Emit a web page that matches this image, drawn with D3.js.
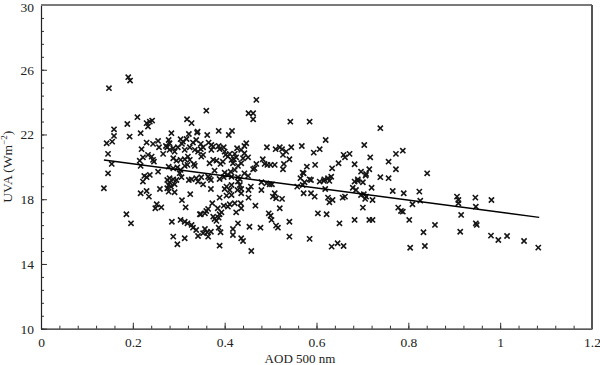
<!DOCTYPE html>
<html>
<head>
<meta charset="utf-8">
<script src="https://cdn.jsdelivr.net/npm/d3@7"></script>
<style>
  body { margin: 0; background: #fff; }
  svg text { font-family: "Liberation Serif", "Times New Roman", serif; fill: #222; }
</style>
</head>
<body>
<div id="chart"></div>
<script>
// AOD at 500 nm (x) and UVA irradiance in W/m2 (y)
var aod = [0.148,0.190,0.194,0.210,0.188,0.230,0.237,0.242,0.233,0.159,0.318,0.328,0.217,0.193,0.159,0.284,0.322,0.340,0.143,0.155,
  0.230,0.244,0.255,0.272,0.278,0.280,0.304,0.309,0.317,0.307,0.331,0.338,0.348,0.146,0.219,0.257,0.275,0.280,0.288,0.291,
  0.298,0.313,0.324,0.335,0.342,0.348,0.233,0.222,0.241,0.244,0.215,0.266,0.288,0.295,0.304,0.313,0.320,0.324,0.333,0.349,
  0.154,0.217,0.246,0.278,0.288,0.297,0.304,0.313,0.319,0.146,0.225,0.230,0.237,0.255,0.280,0.288,0.302,0.306,0.328,0.338,
  0.349,0.137,0.222,0.275,0.280,0.291,0.283,0.278,0.295,0.275,0.322,0.342,0.353,0.217,0.230,0.235,0.259,0.278,0.291,0.325,
  0.307,0.252,0.249,0.262,0.315,0.186,0.196,0.285,0.304,0.313,0.319,0.328,0.331,0.338,0.348,0.357,0.353,0.342,0.288,0.313,
  0.297,
  0.469,0.360,0.452,0.462,0.462,0.543,0.341,0.362,0.387,0.409,0.416,0.365,0.371,0.353,0.375,0.371,0.387,0.389,0.398,0.427,
  0.436,0.443,0.447,0.492,0.511,0.520,0.525,0.545,0.534,0.568,0.353,0.400,0.402,0.407,0.411,0.422,0.425,0.443,0.440,0.451,
  0.527,0.541,0.375,0.367,0.382,0.391,0.396,0.415,0.418,0.420,0.429,0.436,0.469,0.465,0.483,0.487,0.493,0.500,0.509,0.529,
  0.527,0.335,0.378,0.400,0.407,0.413,0.422,0.443,0.451,0.462,0.367,0.398,0.429,0.570,0.565,
  0.364,0.370,0.389,0.415,0.433,0.370,0.400,0.404,0.411,0.415,0.429,0.433,0.436,0.428,0.436,0.452,0.457,0.480,0.491,0.498,
  0.503,0.480,0.389,0.404,0.415,0.452,0.509,0.505,0.512,0.525,0.558,0.570,0.373,0.385,0.398,0.407,0.411,0.422,0.435,0.436,
  0.467,0.520,0.346,0.360,0.364,0.375,0.378,0.382,0.389,0.393,0.387,0.425,0.496,0.500,0.502,0.429,0.357,0.362,0.364,0.370,
  0.387,0.391,0.418,0.418,0.454,0.478,0.512,0.516,0.541,0.436,0.440,0.541,0.389,0.458,
  0.585,0.739,0.620,0.594,0.607,0.704,0.659,0.662,0.672,0.717,0.773,0.788,0.579,0.597,0.634,0.648,0.683,0.757,0.572,0.697,
  0.708,0.715,0.773,0.585,0.625,0.632,0.617,0.690,0.739,0.757,0.841,
  0.574,0.588,0.607,0.616,0.628,0.619,0.572,0.588,0.596,0.625,0.628,0.635,0.657,0.662,0.683,0.690,0.701,0.679,0.686,0.707,
  0.720,0.697,0.703,0.708,0.706,0.722,0.766,0.603,0.622,0.650,0.683,0.715,0.722,0.701,0.778,0.784,0.788,0.585,0.633,0.646,
  0.659,
  0.790,0.824,0.826,0.809,0.802,0.833,0.858,0.804,0.836,0.906,0.909,0.909,0.946,0.947,0.981,0.915,0.947,0.949,0.913,0.980,
  0.996,1.015,1.052,1.083];

var uva = [24.86,25.54,25.33,23.07,22.65,22.70,22.79,22.86,22.49,22.32,22.94,22.70,22.08,21.87,21.91,22.08,22.03,22.11,21.46,21.56,
  21.50,21.42,21.60,21.29,21.66,21.46,21.71,21.56,21.72,21.42,21.50,21.66,21.42,20.80,21.09,21.21,21.21,21.05,21.15,20.94,
  21.21,21.05,21.21,21.05,20.94,21.09,20.74,20.59,20.63,20.43,20.38,20.80,20.53,20.38,20.43,20.47,20.63,20.43,20.18,20.63,
  20.18,20.06,20.32,20.01,19.91,19.97,19.81,20.06,20.12,19.60,19.44,19.36,19.50,19.70,19.30,19.23,19.61,19.36,19.23,19.30,
  19.36,18.68,19.09,19.19,19.05,18.92,18.78,18.88,19.19,18.68,19.19,19.09,18.92,18.37,18.51,18.16,18.63,18.47,18.43,18.31,
  17.94,17.69,17.44,17.50,17.50,17.07,16.51,16.61,16.72,16.61,16.51,16.41,16.24,16.10,17.07,17.13,15.90,15.73,15.69,15.59,
  15.22,
  24.14,23.47,23.31,23.31,22.94,22.79,22.18,21.97,22.22,21.97,22.22,21.50,21.35,21.21,21.25,21.05,21.29,21.09,21.21,21.15,
  21.05,21.29,21.46,21.21,21.09,21.21,21.09,21.21,20.94,21.29,20.74,20.94,20.74,20.63,20.80,20.80,20.59,20.84,20.53,20.59,
  20.74,20.47,20.43,20.22,20.38,20.18,20.32,20.43,20.22,20.47,20.06,20.22,20.18,19.91,20.47,20.18,20.12,20.12,20.12,20.18,
  19.85,20.06,19.77,19.64,19.50,19.70,19.81,19.60,19.44,19.85,19.30,19.36,19.36,19.64,19.30,
  19.39,19.19,19.25,19.39,19.25,18.63,18.63,18.78,18.57,18.88,19.09,18.88,18.63,18.57,18.37,18.57,18.78,19.05,18.98,18.92,
  18.92,18.57,18.10,18.22,18.26,18.10,18.37,18.16,18.06,18.02,18.78,18.88,17.75,17.44,17.60,17.54,17.69,17.75,17.75,17.44,
  17.60,17.44,17.07,17.27,17.40,16.92,16.78,16.66,17.07,17.19,16.86,17.19,17.13,16.98,16.72,16.51,16.16,15.96,15.69,15.99,
  16.24,15.96,16.16,15.79,16.30,16.24,16.37,16.24,16.61,15.59,15.42,15.69,15.13,14.80,
  22.79,22.39,21.66,20.88,21.09,21.35,20.74,20.59,20.80,20.59,20.80,21.00,20.01,20.12,19.91,20.22,20.16,20.32,19.60,19.70,
  19.56,19.85,19.85,19.23,19.30,19.39,19.23,19.23,19.36,19.30,19.60,
  19.05,19.19,19.09,19.13,19.13,18.63,18.37,18.37,18.16,18.10,17.81,17.95,18.10,18.16,19.09,19.13,19.05,18.71,18.57,19.46,
  18.71,18.26,18.31,18.16,18.02,17.95,18.51,17.13,17.07,16.51,16.72,16.72,16.72,17.48,17.48,17.27,17.23,15.55,15.07,15.28,
  15.11,
  18.37,18.47,17.91,17.69,16.72,15.96,16.41,15.00,15.11,18.16,17.95,17.75,18.10,17.54,17.95,17.03,16.51,16.41,15.99,15.75,
  15.48,15.73,15.42,15.01];

// regression line as drawn in the figure
var fitIntercept = 20.94;
var fitSlope = -3.745;
var fitRange = [0.137, 1.085];

var xTicks = [0, 0.2, 0.4, 0.6, 0.8, 1, 1.2];
var yTicks = [10, 14, 18, 22, 26, 30];

var points = aod.map(function(d, i) { return { x: d, y: uva[i] }; });

var margin = { top: 5, right: 8, bottom: 36.3, left: 41 };
var width = 600 - margin.left - margin.right,
    height = 365 - margin.top - margin.bottom;

var svg = d3.select("#chart").append("svg")
    .attr("width", 600)
    .attr("height", 365)
  .append("g")
    .attr("transform", "translate(" + margin.left + "," + margin.top + ")");

var x = d3.scaleLinear().domain([0, 1.2]).range([0, width]);
var y = d3.scaleLinear().domain([10, 30]).range([height, 0]);

// minor ticks
svg.append("g")
    .attr("transform", "translate(0," + height + ")")
    .call(d3.axisBottom(x).tickValues(d3.range(0, 1.2001, 0.04)).tickSize(-3).tickFormat(""))
    .call(function(g) { g.select(".domain").remove(); });
svg.append("g")
    .call(d3.axisLeft(y).tickValues(d3.range(10, 30.001, 0.8)).tickSize(-3).tickFormat(""))
    .call(function(g) { g.select(".domain").remove(); });

// major ticks and labels
var xAxis = svg.append("g")
    .attr("transform", "translate(0," + height + ")")
    .call(d3.axisBottom(x).tickValues(xTicks).tickSize(-6).tickSizeOuter(0).tickPadding(9)
      .tickFormat(d3.format("~g")));
var yAxis = svg.append("g")
    .call(d3.axisLeft(y).tickValues(yTicks).tickSize(-6).tickSizeOuter(0).tickPadding(7));

svg.selectAll(".tick line").attr("stroke", "#333").attr("stroke-width", 1);
svg.selectAll(".domain").attr("stroke", "#222").attr("stroke-width", 1.2);
svg.selectAll(".tick text").attr("font-size", 13.5).attr("font-family", "Liberation Serif, serif").attr("fill", "#222");
// keep the top label inside the page
yAxis.selectAll(".tick text").filter(function(d) { return d === 30; }).attr("dy", "0.45em");

// top and right frame
svg.append("line")
    .attr("x1", 0).attr("x2", width).attr("y1", 0).attr("y2", 0)
    .attr("stroke", "#7a7a7a").attr("stroke-width", 2);
svg.append("line")
    .attr("x1", width).attr("x2", width).attr("y1", 0).attr("y2", height)
    .attr("stroke", "#555").attr("stroke-width", 2);

// scatter markers
svg.selectAll(".pt").data(points)
  .enter()
    .append("path")
    .attr("class", "pt")
    .attr("transform", function(d) { return "translate(" + x(d.x) + "," + y(d.y) + ")"; })
    .attr("d", "M-2.6,-2.6L2.6,2.6M-2.6,2.6L2.6,-2.6")
    .attr("stroke", "#151515")
    .attr("stroke-width", 1.6)
    .attr("fill", "none");

// fitted line
var line = d3.line()
    .x(function(d) { return x(d); })
    .y(function(d) { return y(fitIntercept + fitSlope * d); });
svg.append("path")
    .datum(fitRange)
    .attr("d", line)
    .attr("stroke", "#000")
    .attr("stroke-width", 1.4)
    .attr("fill", "none");

// axis titles
svg.append("text")
    .attr("x", 259)
    .attr("y", height + 34.5)
    .attr("text-anchor", "middle")
    .attr("font-size", 13)
    .text("AOD 500 nm");

var yl = svg.append("text")
    .attr("transform", "translate(-29," + (height / 2) + ") rotate(-90)")
    .attr("text-anchor", "middle")
    .attr("font-size", 13.5);
yl.append("tspan").text("UVA (Wm");
yl.append("tspan").attr("font-size", 9).attr("dy", -5).text("−2");
yl.append("tspan").attr("dy", 5).text(")");
</script>
</body>
</html>
